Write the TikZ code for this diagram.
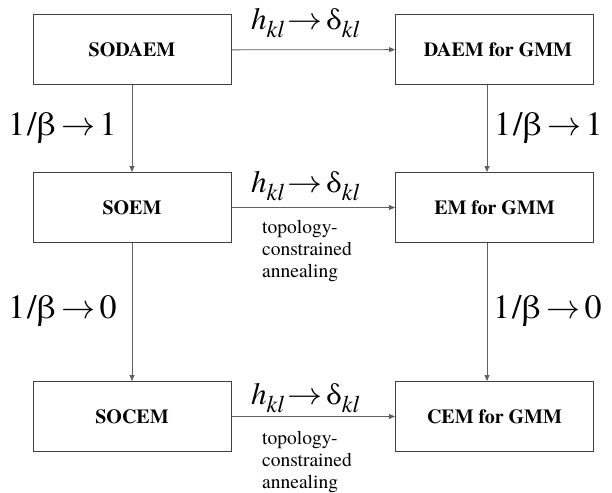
\RequirePackage{fix-cm}
\documentclass[tikz,border=0pt]{standalone}
\usepackage{fontspec}
\IfFontExistsTF{TeX Gyre Termes}{\setmainfont{TeX Gyre Termes}}{\setmainfont{Liberation Serif}}
\usetikzlibrary{arrows.meta}
\definecolor{boxline}{HTML}{404040}
\definecolor{connline}{HTML}{606060}
\newcommand{\klsub}{\raisebox{-8pt}{\fontsize{24}{24}\selectfont\textit{kl}}}
\newcommand{\hdlabel}{{\fontsize{31}{31}\selectfont\textit{h}\klsub\hspace{3pt}\scalebox{1.13}[1]{$\rightarrow$}\hspace{4pt}δ\klsub}}
\newcommand{\betalabel}[1]{{\fontsize{34}{34}\selectfont 1\hspace{2pt}/\hspace{1pt}β\hspace{6pt}$\rightarrow$\hspace{4pt}#1}}
\tikzset{
  box/.style={draw=boxline, line width=1pt, rectangle, minimum width=198pt, minimum height=70pt, inner sep=0pt, font=\fontsize{20}{24}\selectfont\bfseries},
  conn/.style={draw=connline, line width=0.8pt, -{Triangle[length=6pt,width=5pt]}},
  lab/.style={inner sep=0pt, anchor=base west},
  note/.style={inner sep=0pt, anchor=north west, align=left, font=\fontsize{19.5}{22}\selectfont}
}
\begin{document}
\begin{tikzpicture}[x=1pt,y=-1pt]
\useasboundingbox (0,0) rectangle (612,492);
% boxes
\node[box] (sodaem) at (132,50) {SODAEM\hspace{20pt}};
\node[box] (daem) at (494.5,49.5) {\hspace{7pt}DAEM for GMM};
\node[box] (soem) at (132,207.5) {SOEM\hspace{4pt}};
\node[box] (em) at (494.5,207.5) {EM for GMM};
\node[box] (socem) at (132,416.5) {SOCEM\hspace{7pt}};
\node[box] (cem) at (494.5,416.5) {CEM for GMM};
% horizontal connectors
\draw[conn] (sodaem) -- (daem);
\draw[conn] (soem) -- (em);
\draw[conn] (socem) -- (cem);
% vertical connectors
\draw[conn] (sodaem) -- (soem);
\draw[conn] (soem) -- (socem);
\draw[conn] ([xshift=-7.5pt]daem.south) -- ([xshift=-7.5pt]em.north);
\draw[conn] ([xshift=-7.5pt]em.south) -- ([xshift=-7.5pt]cem.north);
% labels on horizontal connectors
\node[lab] (l1) at (251,30) {\hdlabel};
\node[lab] (l2) at (251,192) {\hdlabel};
\node[lab] (l3) at (251,404) {\hdlabel};
\node[note] (n2) at (262,219.5) {topology-\\constrained\\annealing};
\node[note] (n3) at (262,430.5) {topology-\\constrained\\annealing};
% labels on vertical connectors
\node[lab] (b1) at (8,135) {\betalabel{1}};
\node[lab] (b2) at (494,135) {\betalabel{1}};
\node[lab] (b3) at (8,318) {\betalabel{0}};
\node[lab] (b4) at (493,318) {\betalabel{0}};
\end{tikzpicture}
\end{document}
